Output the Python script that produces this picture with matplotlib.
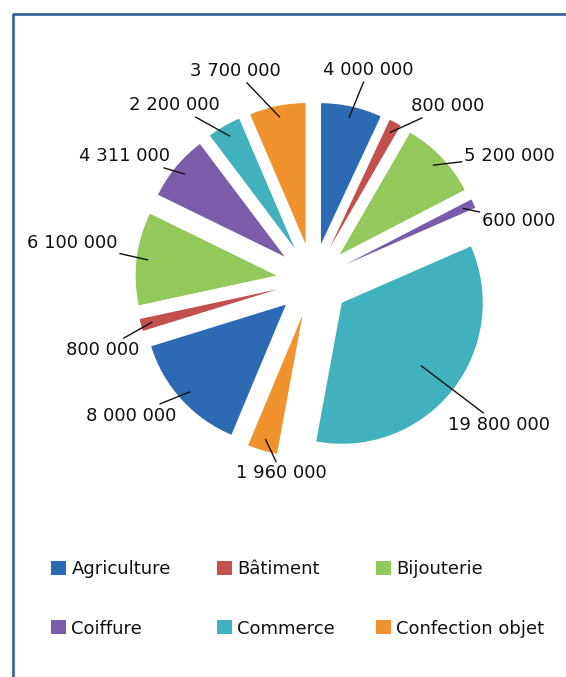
import numpy as np
import matplotlib
matplotlib.use("Agg")
import matplotlib.pyplot as plt
from matplotlib.lines import Line2D
from matplotlib.patches import Patch

plt.rcParams["font.family"] = ["DejaVu Sans"]

# data (clockwise from 12 o'clock)
values = [4000000, 800000, 5200000, 600000, 19800000, 1960000,
          8000000, 800000, 6100000, 4311000, 2200000, 3700000]
labels = ["4 000 000", "800 000", "5 200 000", "600 000", "19 800 000", "1 960 000",
          "8 000 000", "800 000", "6 100 000", "4 311 000", "2 200 000", "3 700 000"]
categories = ["Agriculture", "Bâtiment", "Bijouterie", "Coiffure", "Commerce", "Confection objet"]

palette = {"Agriculture": "#2c6bb3", "Bâtiment": "#c2504c", "Bijouterie": "#92c95a",
           "Coiffure": "#7b5ca8", "Commerce": "#41b1bd", "Confection objet": "#f0922e"}
colors = [palette[c] for c in categories] * 2

# label layout: (clock angle in deg, distance from pie centre in radii)
label_pos = [(14.8, 1.54), (37.8, 1.56), (57.8, 1.65), (73.9, 1.52), (127.9, 1.67), (189.2, 1.39),
             (233.3, 1.61), (251.6, 1.57), (278.8, 1.73), (303.3, 1.60), (321.6, 1.58), (339.7, 1.58)]
leader_in = [0.92, 0.92, 0.92, 0.92, 0.72, 0.92, 0.92, 0.92, 0.92, 0.92, 0.92, 0.92]

W, H = 566, 677
fig = plt.figure(figsize=(W / 100, H / 100), dpi=100)

# pie: centre at (313, 280) px, radius ~141 px
R_px, cx, cy = 141, 313, 280
L = 200 / R_px
ax = fig.add_axes([(cx - 200) / W, (H - cy - 200) / H, 400 / W, 400 / H])
wedges, _ = ax.pie(values, colors=colors, startangle=90, counterclock=False,
                   explode=[0.26] * len(values), radius=1,
                   wedgeprops=dict(linewidth=0))
ax.set_xlim(-L, L)
ax.set_ylim(-L, L)
ax.axis("off")

for w, lab, (ang, dist), k in zip(wedges, labels, label_pos, leader_in):
    mid = np.radians((w.theta1 + w.theta2) / 2)
    x0 = w.center[0] + k * np.cos(mid)
    y0 = w.center[1] + k * np.sin(mid)
    a = np.radians(90 - ang)
    ax.annotate(lab, xy=(x0, y0), xytext=(dist * np.cos(a), dist * np.sin(a)),
                ha="center", va="center", fontsize=13, color="#111111",
                bbox=dict(boxstyle="square,pad=0.15", fc="none", ec="none"),
                arrowprops=dict(arrowstyle="-", color="#111111", lw=1.0,
                                shrinkA=0, shrinkB=0))

# legend, three columns of two rows
cols = [(51, categories[0::3]), (217, categories[1::3]), (376, categories[2::3])]
for x, names in cols:
    handles = [Patch(facecolor=palette[n], edgecolor="none") for n in names]
    fig.legend(handles, names, loc="upper left",
               bbox_to_anchor=(x / W, 1 - 560 / H), frameon=False,
               fontsize=13, handlelength=0.83, handleheight=0.83,
               handletextpad=0.3, labelspacing=2.3, borderpad=0,
               borderaxespad=0, labelcolor="#111111")

# frame (left and top edges)
fig.add_artist(Line2D([12.5 / W, 12.5 / W, 1], [0, 1 - 13.5 / H, 1 - 13.5 / H],
                      transform=fig.transFigure, color="#2f5f9a", lw=1.9))

fig.savefig("out.png", dpi=100)
